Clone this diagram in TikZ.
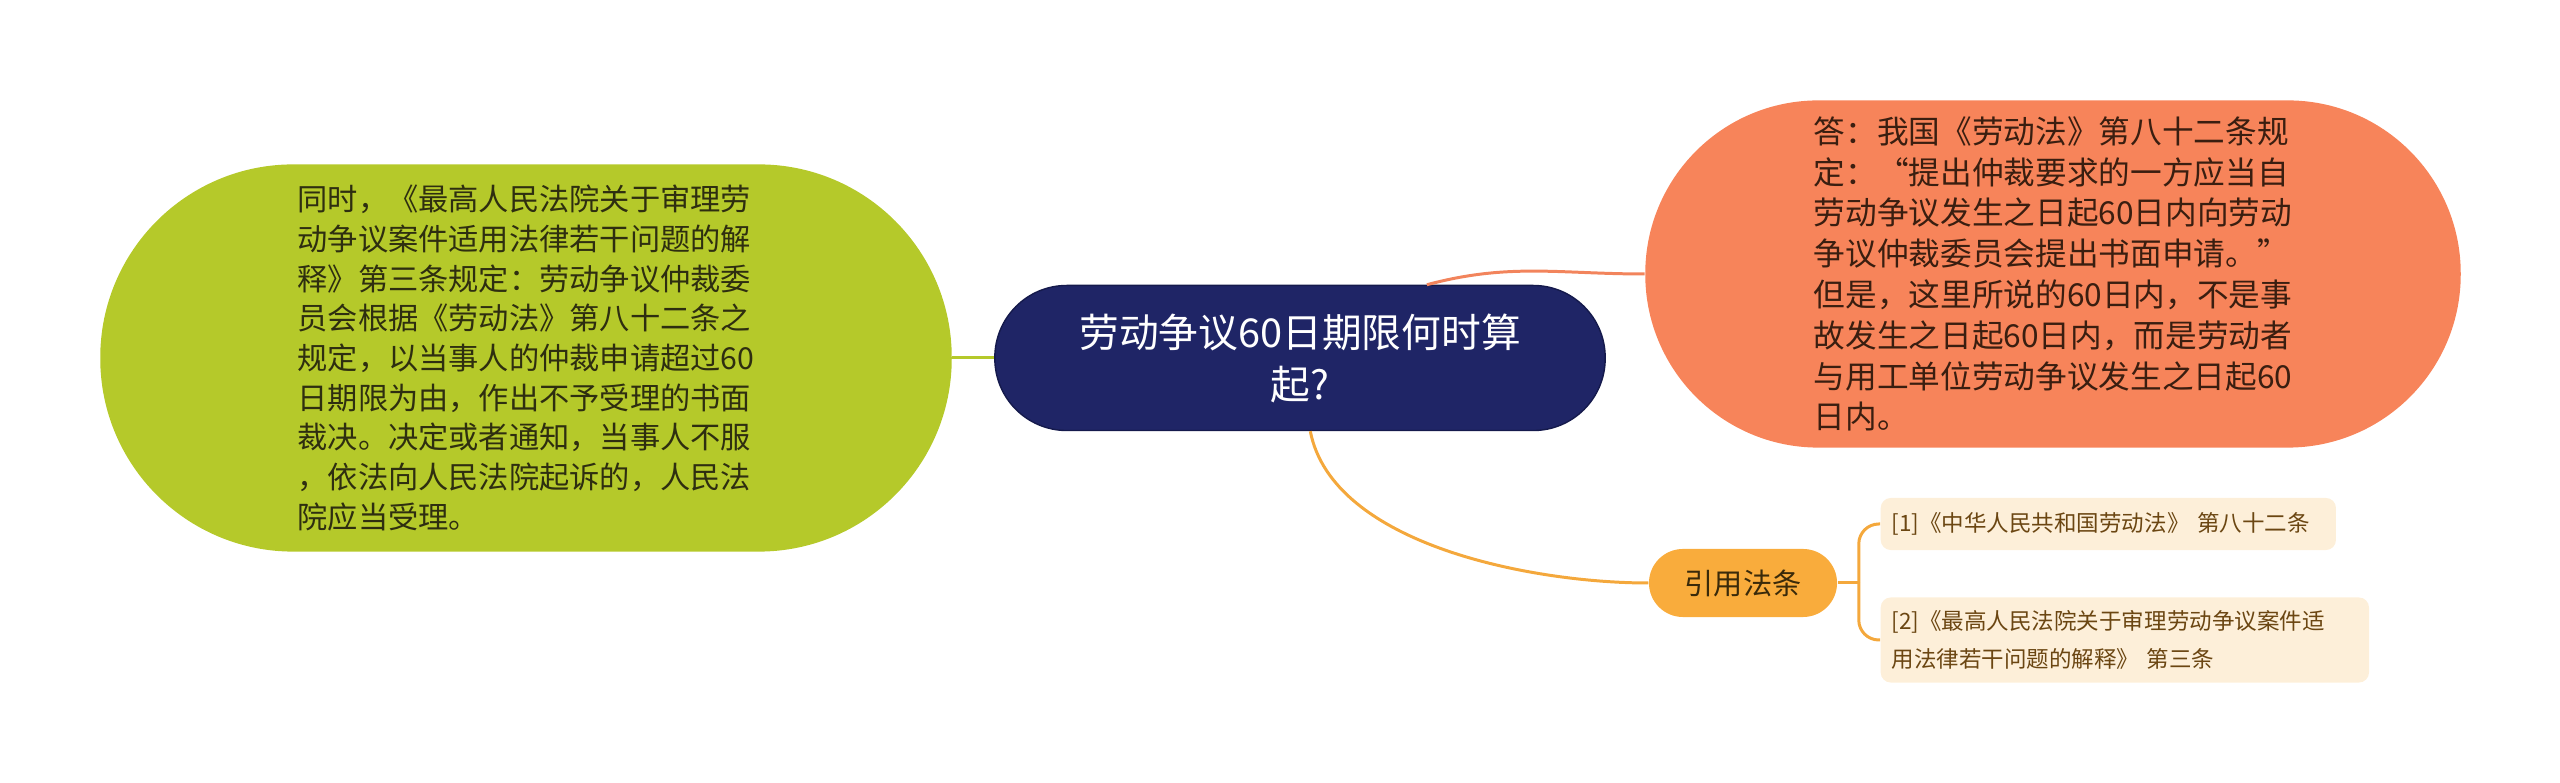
\documentclass[tikz,border=0pt]{standalone}
\usepackage{fontspec}
\setmainfont{Noto Sans CJK SC}
\definecolor{topicfill}{HTML}{1F2566}
\definecolor{topicline}{HTML}{151A4C}
\definecolor{greenfill}{HTML}{B5C92A}
\definecolor{greentext}{HTML}{2E2E10}
\definecolor{orangefill}{HTML}{F7845A}
\definecolor{orangetext}{HTML}{3A1E10}
\definecolor{yellowfill}{HTML}{F9AC3C}
\definecolor{yellowtext}{HTML}{3A2A0A}
\definecolor{reffill}{HTML}{FDEFD9}
\definecolor{reftext}{HTML}{6B4612}
\definecolor{orangeline}{HTML}{F2845C}
\definecolor{yellowline}{HTML}{F4A83C}
\begin{document}
\begin{tikzpicture}[
		x=0.01cm,
		y=-0.01cm,
		topic/.style={draw=topicline,line width=0.4pt,fill=topicfill,text=white,rounded corners=0.72cm,minimum width=6.1cm,minimum height=1.45cm,align=center,font=\fontsize{11.3}{14.8}\selectfont},
		bigleaf/.style={rounded corners=#1,align=left,inner sep=0pt},
		citebox/.style={fill=yellowfill,text=yellowtext,rounded corners=0.34cm,minimum width=1.88cm,minimum height=0.68cm,font=\fontsize{8.3}{10}\selectfont},
		refbox/.style={fill=reffill,text=reftext,rounded corners=0.1cm,inner xsep=0.11cm,inner ysep=0pt,align=left,anchor=west,font=\fontsize{6.4}{10.7}\selectfont},
		link/.style={line width=0.85pt},
	]
		\useasboundingbox (0,0) rectangle (2560,783);
		
		\node[bigleaf=1.93cm,fill=greenfill,text=greentext,minimum width=8.51cm,minimum height=3.87cm,font=\fontsize{8.6}{11.3}\selectfont] (tongshi) at (526,358) {同时，《最高人民法院关于审理劳\\动争议案件适用法律若干问题的解\\释》第三条规定：劳动争议仲裁委\\员会根据《劳动法》第八十二条之\\规定，以当事人的仲裁申请超过60\\日期限为由，作出不予受理的书面\\裁决。决定或者通知，当事人不服\\，依法向人民法院起诉的，人民法\\院应当受理。};
		\node[bigleaf=1.73cm,fill=orangefill,text=orangetext,minimum width=8.15cm,minimum height=3.47cm,font=\fontsize{9}{11.6}\selectfont] (dafu) at (2053,274) {答：我国《劳动法》第八十二条规\\定：“提出仲裁要求的一方应当自\\劳动争议发生之日起60日内向劳动\\争议仲裁委员会提出书面申请。”\\但是，这里所说的60日内，不是事\\故发生之日起60日内，而是劳动者\\与用工单位劳动争议发生之日起60\\日内。};
		\node[topic] (ctr) at (1300,358) {劳动争议60日期限何时算\\起?};
		\node[citebox] (yinyong) at (1743,583) {引用法条};
		\node[refbox,text width=4.33cm,minimum height=0.52cm] (ref1) at (1880,524) {[1]《中华人民共和国劳动法》 第八十二条};
		\node[refbox,text width=4.66cm,minimum height=0.85cm] (ref2) at (1880,640) {[2]《最高人民法院关于审理劳动争议案件适\\用法律若干问题的解释》 第三条};
		
		\draw[link,greenfill] (tongshi.east) -- (ctr.west);
		\draw[link,orangeline] (ctr.30) to[out=15,in=180] (dafu.west);
		\draw[link,yellowline] (ctr.-82) to[out=-79,in=180,looseness=0.8] (yinyong.west);
		\draw[link,yellowline] (yinyong.east) -- ++(21,0) coordinate (fork);
		\foreach \r in {ref1,ref2}{
			\draw[link,yellowline,rounded corners=0.2cm] (fork) |- (\r.west);
		}
	\end{tikzpicture}
\end{document}
